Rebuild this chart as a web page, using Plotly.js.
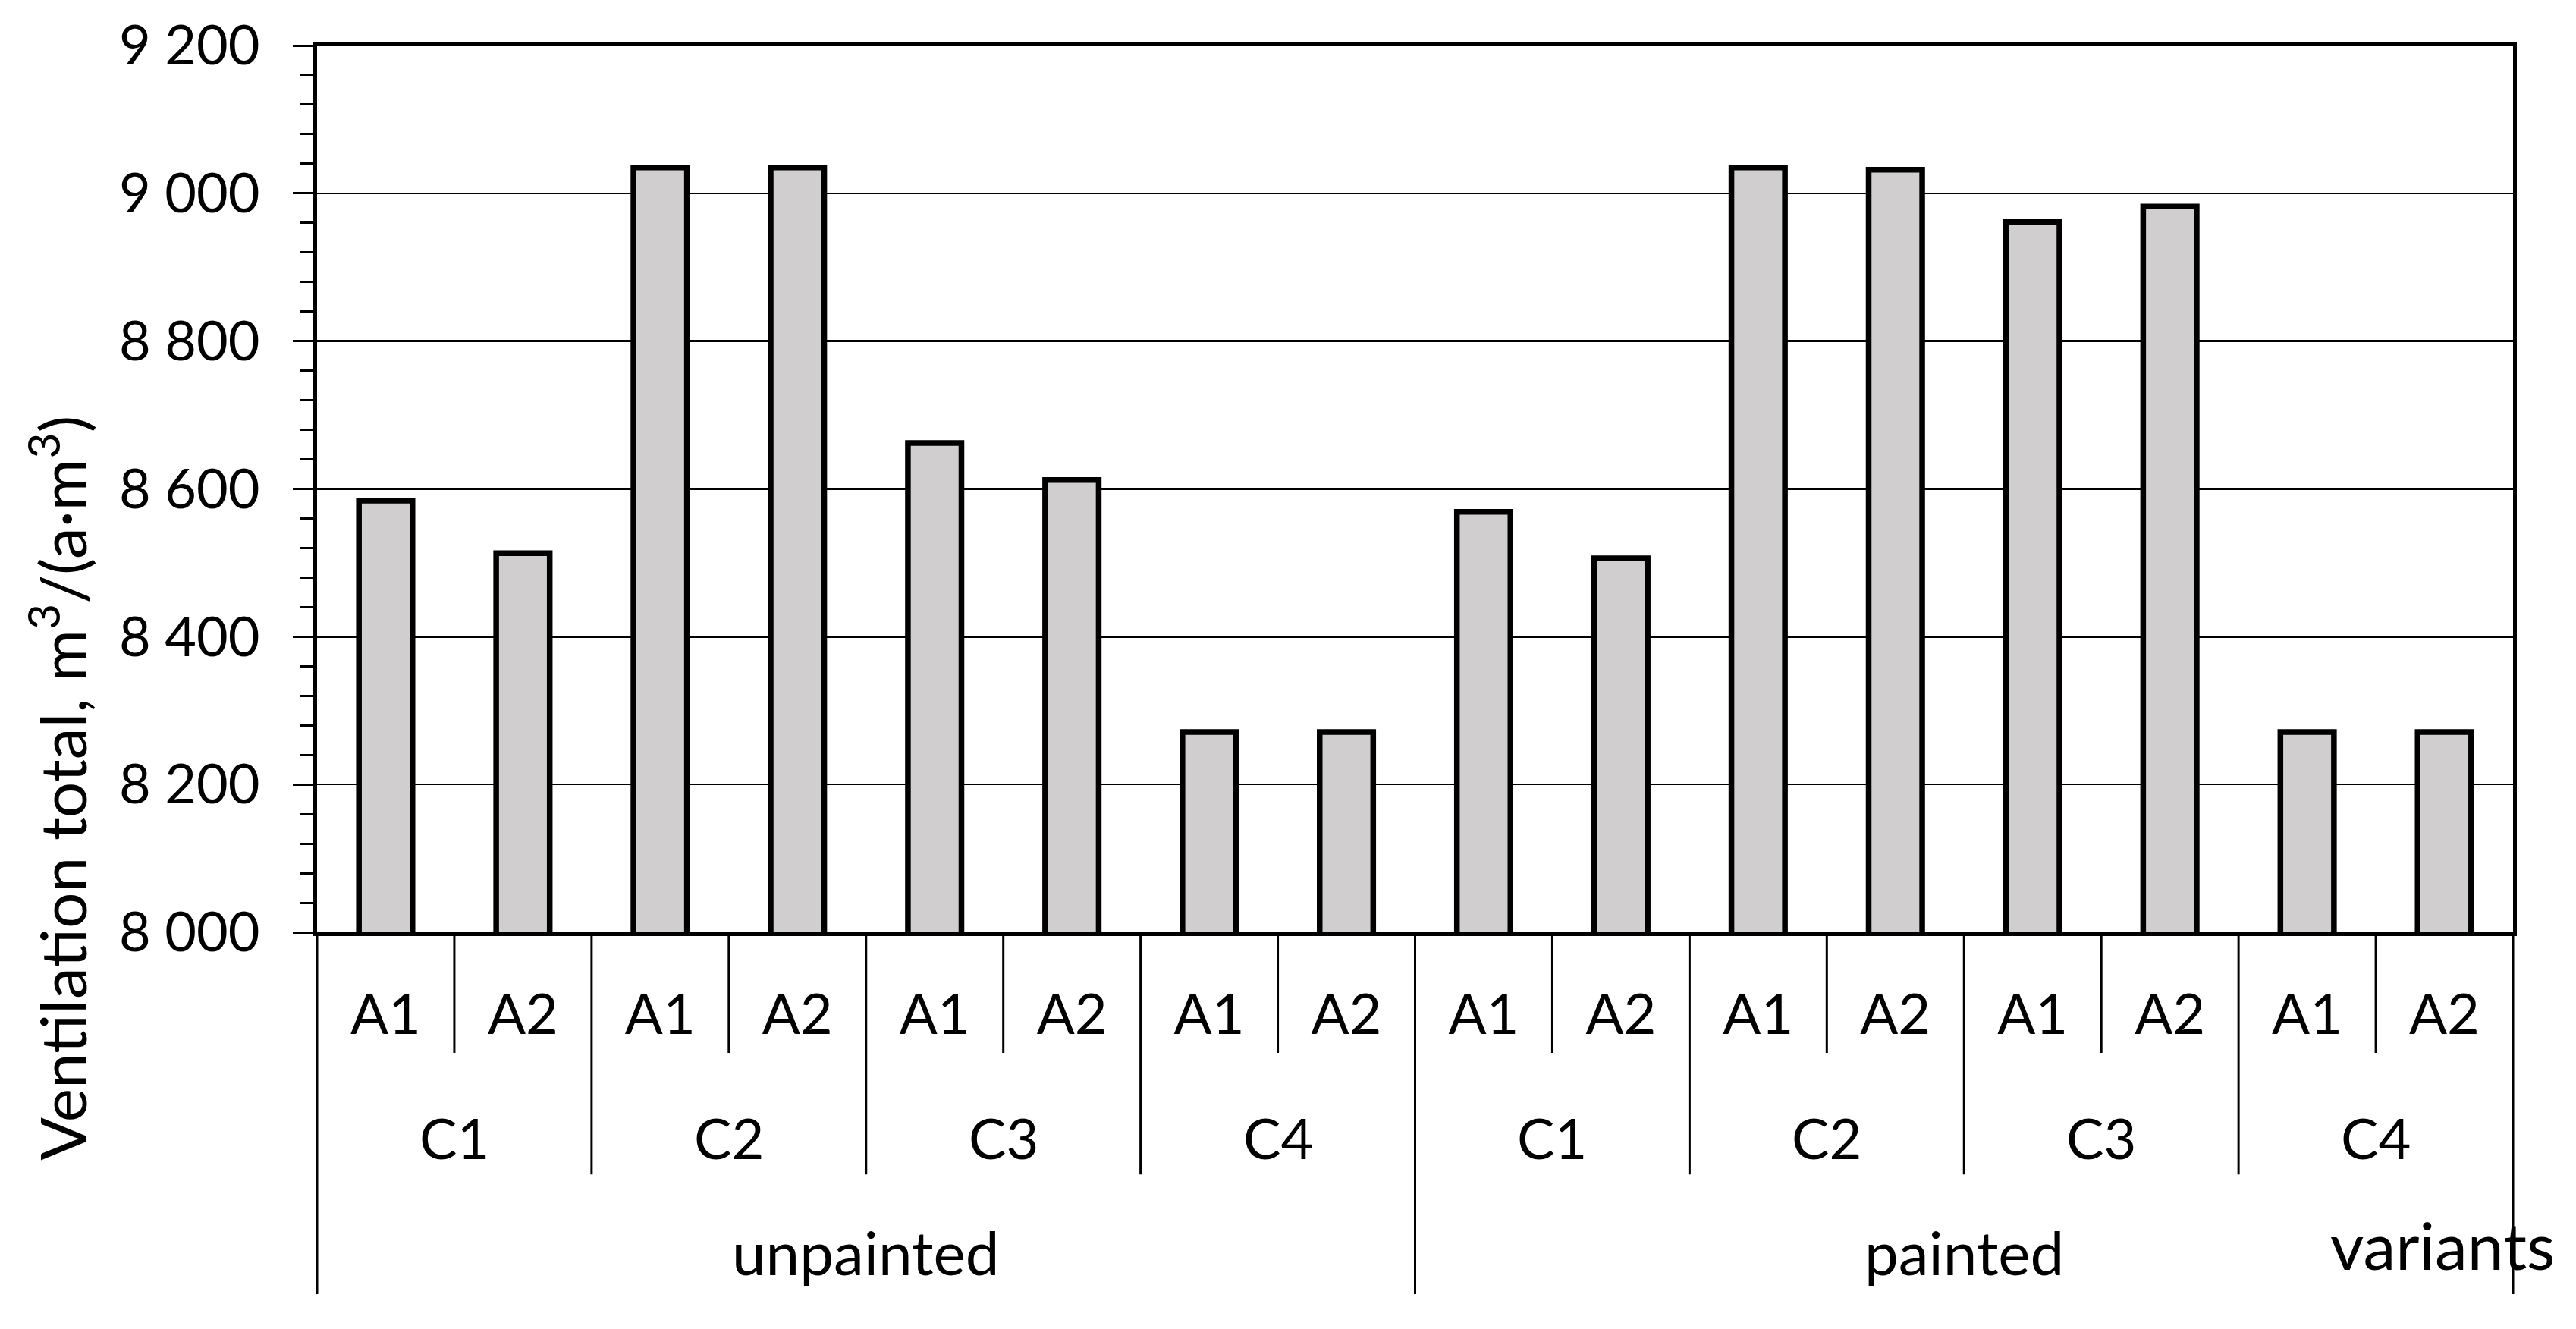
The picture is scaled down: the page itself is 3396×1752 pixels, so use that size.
<!DOCTYPE html>
<html>
<head>
<meta charset="utf-8">
<script src="https://cdn.plot.ly/plotly-3.0.1.min.js"></script>
<style>
  html, body { margin: 0; padding: 0; background: #fff; }
  #chart { width: 3396px; height: 1752px; }
</style>
</head>
<body>
<div id="chart"></div>
<script>
// Category levels (inner to outer)
const airings = ['A1', 'A2'];
const configs = ['C1', 'C2', 'C3', 'C4'];
const finishes = ['unpainted', 'painted'];

// Ventilation total, m3/(a*m3), in order C1A1, C1A2, C2A1 ... C4A2
const unpaintedTotals = [8584, 8513, 9035, 9035, 8662, 8612, 8271, 8271];
const paintedTotals = [8569, 8506, 9035, 9032, 8961, 8982, 8271, 8271];

const yTitle = 'Ventilation total, m<sup>3</sup>/(a·m<sup>3</sup>)';
const cornerLabel = 'variants';

const FONT = 'Lato, "Open Sans", sans-serif';

// flatten the three levels into one run of bars
const xIdx = [];
const xText = [];
const values = [];
finishes.forEach((f, p) => {
  const src = p === 0 ? unpaintedTotals : paintedTotals;
  configs.forEach((c, j) => {
    airings.forEach((a, k) => {
      xIdx.push(xIdx.length);
      xText.push(a);
      values.push(src[j * airings.length + k]);
    });
  });
});
const n = xIdx.length;
const perFinish = configs.length * airings.length;

// divider lines under the axis, deeper for the outer levels
const shapes = [];
const depthA = -0.136, depthC = -0.273, depthF = -0.408;
for (let b = 0; b <= n; b++) {
  let y1 = depthA;
  if (b % perFinish === 0) y1 = depthF;
  else if (b % airings.length === 0) y1 = depthC;
  shapes.push({
    type: 'line', xref: 'x domain', yref: 'paper',
    x0: b / n, x1: b / n, y0: 0, y1: y1,
    line: { color: '#000', width: 3 }
  });
}

const txt = (size) => ({ family: FONT, size: size, color: '#000' });
const annotations = [];
finishes.forEach((f, p) => {
  configs.forEach((c, j) => {
    const start = p * perFinish + j * airings.length;
    annotations.push({
      text: c, x: start + (airings.length - 1) / 2, xref: 'x',
      y: -0.231, yref: 'paper', xanchor: 'center', yanchor: 'middle',
      showarrow: false, font: txt(74)
    });
  });
  annotations.push({
    text: f, x: p * perFinish + (perFinish - 1) / 2, xref: 'x',
    y: -0.36, yref: 'paper', xanchor: 'center', yanchor: 'middle',
    showarrow: false, font: txt(80)
  });
});
annotations.push({
  text: cornerLabel, x: 0.968, xref: 'paper', y: -0.352, yref: 'paper',
  xanchor: 'center', yanchor: 'middle', showarrow: false, font: txt(86)
});
annotations.push({
  text: yTitle, textangle: -90, x: -0.118, xref: 'paper', y: 0.163, yref: 'paper',
  xanchor: 'center', yanchor: 'middle', showarrow: false, font: txt(84)
});

const trace = {
  type: 'bar',
  x: xIdx,
  y: values,
  marker: { color: '#d0cecf', line: { color: '#000', width: 7.5 } },
  hoverinfo: 'skip'
};

const layout = {
  width: 3396,
  height: 1752,
  margin: { l: 418, r: 83, t: 60, b: 523, pad: 0 },
  paper_bgcolor: '#fff',
  plot_bgcolor: '#fff',
  font: { family: FONT, color: '#000' },
  separators: '. ',
  showlegend: false,
  bargap: 0.61,
  xaxis: {
    range: [-0.5, n - 0.5],
    tickvals: xIdx,
    ticktext: xText,
    ticks: '',
    showgrid: false,
    zeroline: false,
    showline: true,
    linecolor: '#000',
    linewidth: 5,
    mirror: true,
    tickfont: txt(74),
    ticklabelstandoff: 40
  },
  yaxis: {
    range: [8000, 9200],
    tick0: 8000,
    dtick: 200,
    tickformat: ',d',
    showline: true,
    linecolor: '#000',
    linewidth: 5,
    mirror: true,
    showgrid: true,
    gridcolor: '#000',
    gridwidth: 2.5,
    zeroline: false,
    ticks: 'outside',
    ticklen: 27,
    tickwidth: 3,
    tickcolor: '#000',
    tickfont: txt(72),
    ticklabelstandoff: 29,
    minor: { tick0: 8000, dtick: 40, ticks: 'outside', ticklen: 18, tickwidth: 3, tickcolor: '#000', showgrid: false }
  },
  shapes: shapes,
  annotations: annotations
};

Plotly.newPlot('chart', [trace], layout, { displayModeBar: false, staticPlot: true });
</script>
</body>
</html>
